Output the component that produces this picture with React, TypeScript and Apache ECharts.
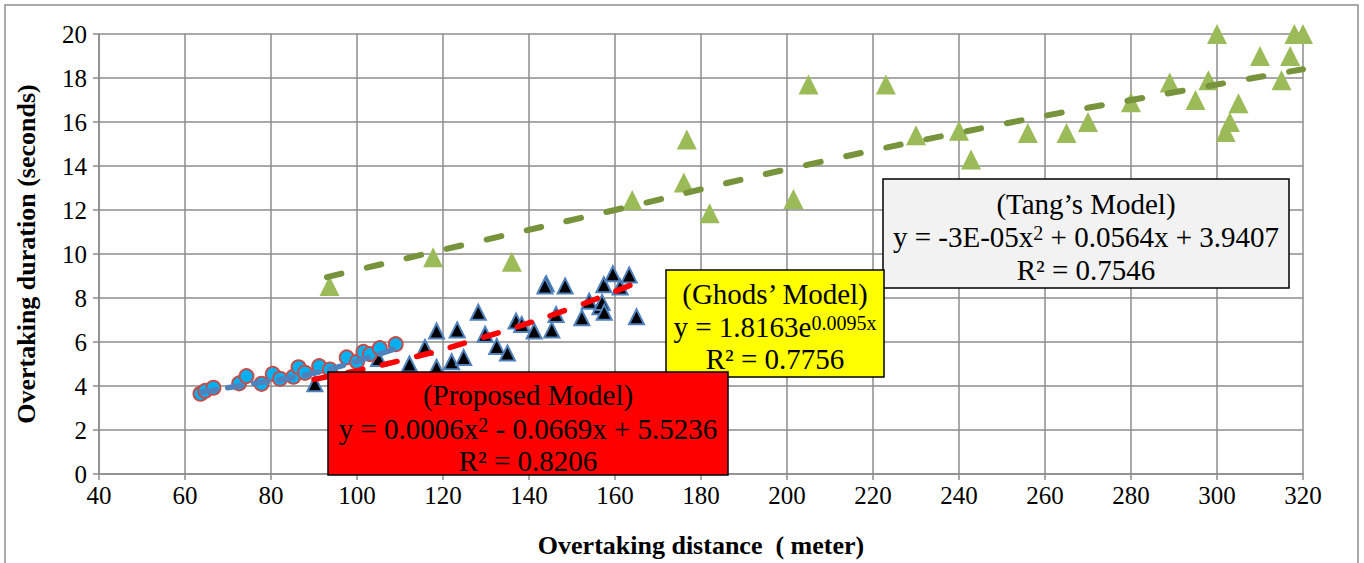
import React, { useEffect, useRef } from "react";
import * as echarts from "echarts";

// Observed data (distance in meters, duration in seconds)
const proposedData: [number, number][] = [
  [63.6, 3.65], [64.7, 3.78], [66.6, 3.92], [72.6, 4.12], [74.3, 4.45], [77.8, 4.1],
  [80.4, 4.55], [82.1, 4.33], [85.2, 4.42], [86.4, 4.85], [87.9, 4.6], [91.2, 4.9],
  [93.7, 4.75], [97.6, 5.3], [100, 5.1], [101.5, 5.55], [103, 5.45], [105.3, 5.72], [109, 5.9],
];
const ghodsData: [number, number][] = [
  [90.2, 4.1], [105, 5.25], [112.2, 5.0], [115.8, 5.75], [118.5, 4.85], [118.5, 6.5],
  [122, 5.1], [123.3, 6.55], [124.8, 5.3], [128.2, 7.35], [129.8, 6.35], [132.5, 5.8],
  [135, 5.5], [137, 6.95], [138.3, 6.8], [141.2, 6.5], [144, 8.65], [143.7, 8.55],
  [145.3, 6.55], [146.3, 7.25], [148.4, 8.55], [152.3, 7.1], [154, 7.85], [156.5, 7.6],
  [157, 7.8], [157.5, 7.35], [157.4, 8.6], [159.5, 9.1], [161.2, 8.5], [163.3, 9.05], [165, 7.15],
];
const tangData: [number, number][] = [
  [93.6, 8.55], [117.7, 9.85], [136, 9.65], [164, 12.45], [176, 13.25], [176.7, 15.2],
  [182, 11.85], [201.5, 12.5], [205, 17.7], [223, 17.7], [230, 15.4], [240, 15.6],
  [242.8, 14.3], [256, 15.5], [265, 15.5], [270, 16.0], [280, 16.9], [289, 17.8],
  [295, 17.0], [298, 17.9], [300, 20], [302, 15.55], [303, 16.0], [305, 16.85],
  [310, 19], [315, 17.9], [317, 19], [318, 20], [320, 20],
];

// Trend lines
const proposedTrend: [number, number][] = [[64, 3.72], [75, 4.08], [86, 4.42], [97, 4.95], [109, 5.7]];
const ghodsTrend: [number, number][] = [[90, 4.3], [110, 5.15], [130, 6.25], [150, 7.55], [165, 8.7]];
const tangTrend: [number, number][] = [[93, 8.95], [130, 10.65], [160, 12.0], [200, 13.85], [250, 15.9], [290, 17.35], [320, 18.4]];

const xTicks = { min: 40, max: 320, interval: 20 };
const yTicks = { min: 0, max: 20, interval: 2 };

const FONT = "'Liberation Serif', 'Times New Roman', serif";
const GRID = "#8C8C8C";
const BOX_FONT = 29;

const boxLine = (x: number, y: number, text: string, rich?: any) => ({
  type: "text",
  x,
  y,
  z: 101,
  style: {
    text,
    fill: "#000",
    fontSize: BOX_FONT,
    fontFamily: FONT,
    align: "center",
    verticalAlign: "middle",
    rich,
  },
});

const supRich = {
  n: { fontSize: BOX_FONT, fontFamily: FONT, fill: "#000" },
  s: { fontSize: 20, fontFamily: FONT, fill: "#000", verticalAlign: "top" },
};

export default function App() {
  const ref = useRef<HTMLDivElement>(null);
  useEffect(() => {
    if (!ref.current) return;
    const chart = echarts.init(ref.current, null, { renderer: "svg" });
    chart.setOption({
      animation: false,
      backgroundColor: "#fff",
      grid: { left: 99, top: 34, width: 1204, height: 440, containLabel: false },
      xAxis: {
        type: "value",
        ...xTicks,
        name: "Overtaking distance  ( meter)",
        nameLocation: "middle",
        nameGap: 58,
        nameTextStyle: { fontSize: 26, fontWeight: "bold", fontFamily: FONT, color: "#000" },
        axisLine: { show: true, lineStyle: { color: GRID, width: 1.5 } },
        axisTick: { show: true, length: 6, lineStyle: { color: GRID, width: 1.5 } },
        axisLabel: { fontSize: 25, fontFamily: FONT, color: "#000", margin: 9 },
        splitLine: { show: true, lineStyle: { color: GRID, width: 1.5 } },
      },
      yAxis: {
        type: "value",
        ...yTicks,
        name: "Overtaking duration (seconds)",
        nameLocation: "middle",
        nameGap: 60,
        nameTextStyle: { fontSize: 26, fontWeight: "bold", fontFamily: FONT, color: "#000" },
        axisLine: { show: true, lineStyle: { color: GRID, width: 1.5 } },
        axisTick: { show: true, length: 6, lineStyle: { color: GRID, width: 1.5 } },
        axisLabel: { fontSize: 25, fontFamily: FONT, color: "#000", margin: 12 },
        splitLine: { show: true, lineStyle: { color: GRID, width: 1.5 } },
      },
      series: [
        {
          type: "scatter",
          name: "Tang",
          data: tangData,
          symbol: "triangle",
          symbolSize: 20,
          itemStyle: { color: "#9BBB59", opacity: 1 },
          z: 2,
        },
        {
          type: "scatter",
          name: "Ghods",
          data: ghodsData,
          symbol: "triangle",
          symbolSize: 15,
          itemStyle: { color: "#000", borderColor: "#4F81BD", borderWidth: 2, opacity: 1 },
          z: 3,
        },
        {
          type: "scatter",
          name: "Proposed",
          data: proposedData,
          symbol: "circle",
          symbolSize: 14,
          itemStyle: { color: "#00B0F0", borderColor: "#C0504D", borderWidth: 2, opacity: 1 },
          z: 4,
        },
        {
          type: "line",
          name: "Tang trend",
          data: tangTrend,
          smooth: true,
          showSymbol: false,
          lineStyle: { color: "#77933C", width: 6, type: [15, 26], cap: "round" },
          z: 5,
        },
        {
          type: "line",
          name: "Ghods trend",
          data: ghodsTrend,
          smooth: true,
          showSymbol: false,
          lineStyle: { color: "#FF0000", width: 5.5, type: [15, 20], cap: "round" },
          z: 6,
        },
        {
          type: "line",
          name: "Proposed trend",
          data: proposedTrend,
          smooth: true,
          showSymbol: false,
          lineStyle: { color: "#4F81BD", width: 5.5, type: [14, 12], cap: "round" },
          z: 7,
        },
      ],
      graphic: [
        {
          type: "rect",
          z: 0,
          silent: true,
          shape: { x: 5, y: 5, width: 1353, height: 580 },
          style: { fill: "none", stroke: "#8E8E8E", lineWidth: 1.5 },
        },
        // Tang's box
        {
          type: "rect",
          z: 100,
          shape: { x: 883, y: 179, width: 406, height: 109 },
          style: { fill: "#F2F2F2", stroke: "#000", lineWidth: 1.5 },
        },
        boxLine(1086, 204, "(Tang\u2019s Model)"),
        boxLine(1086, 237, "{n|y = -3E-05x}{s|2}{n| + 0.0564x + 3.9407}", supRich),
        boxLine(1086, 270, "R\u00B2 = 0.7546"),
        // Ghods' box
        {
          type: "rect",
          z: 100,
          shape: { x: 666, y: 270, width: 218, height: 107 },
          style: { fill: "#FFFF00", stroke: "#000", lineWidth: 1.5 },
        },
        boxLine(775, 294, "(Ghods\u2019 Model)"),
        boxLine(775, 327, "{n|y = 1.8163e}{s|0.0095x}", supRich),
        boxLine(775, 359, "R\u00B2 = 0.7756"),
        // Proposed box
        {
          type: "rect",
          z: 102,
          shape: { x: 328, y: 372, width: 400, height: 103 },
          style: { fill: "#FF0000", stroke: "#000", lineWidth: 1.5 },
        },
        { ...boxLine(528, 395, "(Proposed Model)"), z: 103 },
        { ...boxLine(528, 429, "{n|y = 0.0006x}{s|2}{n| - 0.0669x + 5.5236}", supRich), z: 103 },
        { ...boxLine(528, 461, "R\u00B2 = 0.8206"), z: 103 },
      ],
    });
    return () => chart.dispose();
  }, []);
  return (
    <div
      ref={ref}
      style={{ position: "fixed", left: 0, top: 0, width: 1364, height: 563, background: "#fff" }}
    />
  );
}
